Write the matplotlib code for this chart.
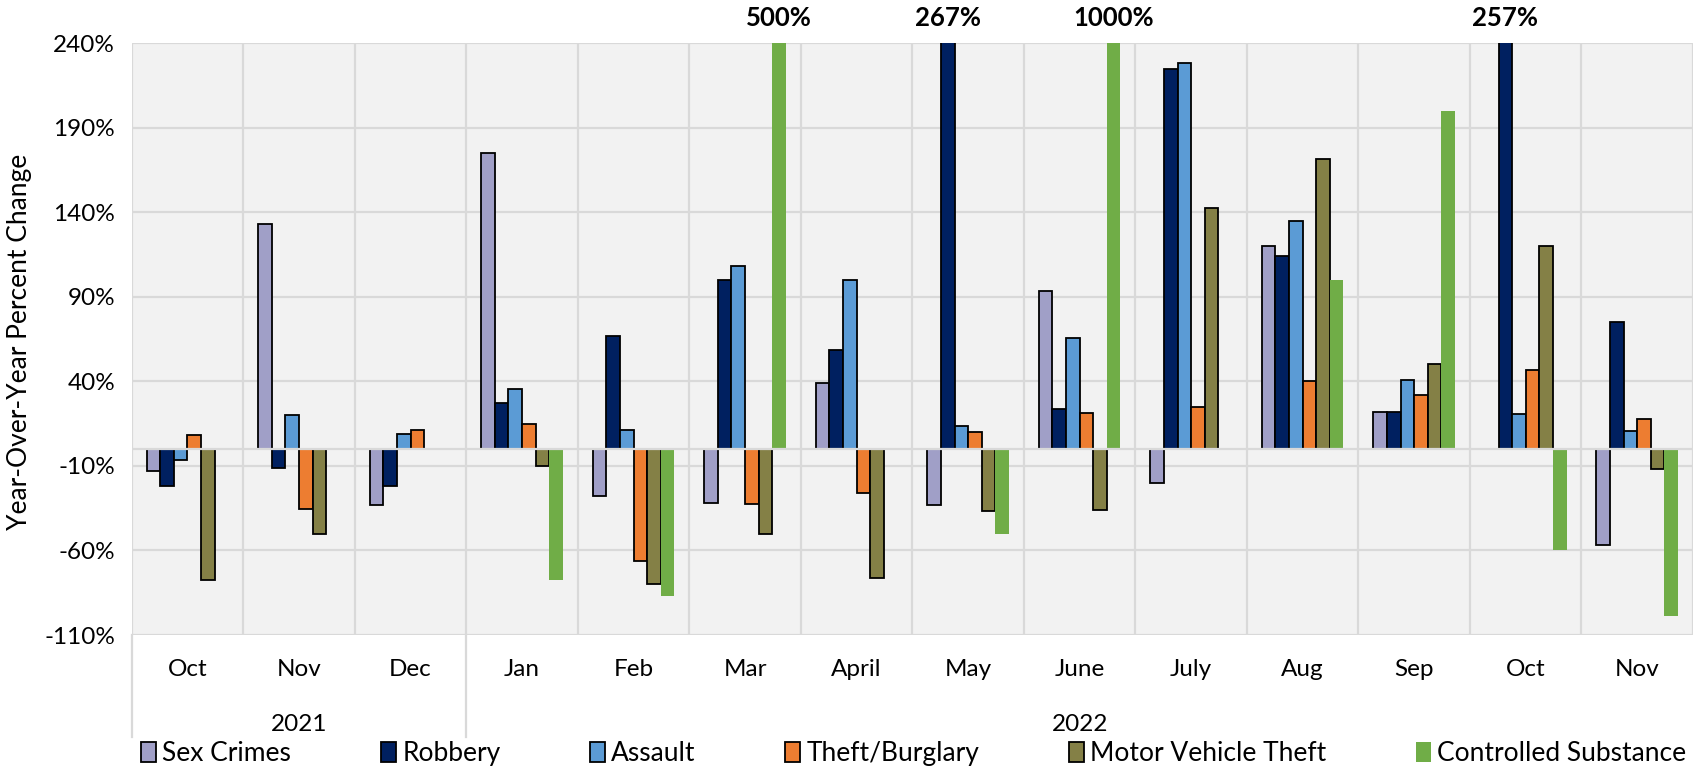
import numpy as np
import matplotlib
matplotlib.use("Agg")
import matplotlib.pyplot as plt
import matplotlib.transforms as mtransforms
from matplotlib.patches import Patch

plt.rcParams['font.family'] = ['Lato', 'DejaVu Sans']

nan = np.nan
months = ['Oct', 'Nov', 'Dec', 'Jan', 'Feb', 'Mar', 'April', 'May', 'June',
          'July', 'Aug', 'Sep', 'Oct', 'Nov']
years = ['2021', '2022']
year_first_idx = [0, 3]
year_last_idx = [2, 13]

series_names = ['Sex Crimes', 'Robbery', 'Assault', 'Theft/Burglary',
                'Motor Vehicle Theft', 'Controlled Substance']
sex_crimes = [-13, 133, -33, 175, -28, -32, 39, -33, 93.5, -20, 120, 22, nan, -57]
robbery = [-22, -11, -22, 27.5, 67, 100, 58.5, 267, 23.5, 224.5, 114, 22, 257, 75]
assault = [-6.5, 20, 9, 35.5, 11.5, 108, 100, 13.5, 65.5, 228, 135, 41, 20.5, 10.5]
theft_burglary = [8, -35.5, 11.5, 15, -66.5, -32.5, -26, 10, 21.5, 25, 40, 32, 46.5, 17.5]
motor_vehicle_theft = [-77.5, -50, nan, -10, -80, -50, -76.5, -36.5, -36, 142.5,
                       171.5, 50, 120, -12]
controlled_substance = [nan, nan, nan, -77.5, -87, 500, nan, -50, 1000, nan,
                        100, 200, -60, -99]

y_ticks = [-110, -60, -10, 40, 90, 140, 190, 240]

colors = ['#A09FC7', '#002060', '#5B9BD5', '#ED7D31', '#848046', '#70AD47']
edges = ['black', 'black', 'black', 'black', 'black', 'none']
all_series = [sex_crimes, robbery, assault, theft_burglary,
              motor_vehicle_theft, controlled_substance]

fig = plt.figure(figsize=(16.93, 7.70), dpi=100)
ax = fig.add_axes([0.0778, 0.1753, 0.9222, 0.7686])
ax.set_facecolor('#F2F2F2')
for s in ax.spines.values():
    s.set_visible(False)

x = np.arange(len(months))
w = 0.122
ymin, ymax = y_ticks[0], y_ticks[-1]
for i, (vals, c, e) in enumerate(zip(all_series, colors, edges)):
    off = (i - 2.5) * w
    v = np.array(vals, dtype=float)
    ax.bar(x + off, v, width=w, color=c, edgecolor=e, linewidth=1.3, zorder=3)
    for xi, vi in zip(x, v):
        if np.isfinite(vi) and vi > ymax:
            ax.annotate(f'{vi:.0f}%', xy=(xi + off, ymax), xytext=(0, 18),
                        textcoords='offset points', ha='center', va='center',
                        fontsize=18.5, fontweight='bold', annotation_clip=False)

ax.set_ylim(ymin, ymax)
ax.set_xlim(-0.5, len(months) - 0.5)
ax.set_yticks(y_ticks)
ax.set_yticklabels([f'{t}%' for t in y_ticks], fontsize=17.5)
ax.tick_params(axis='y', length=0, pad=12)
ax.set_xticks(x)
ax.set_xticklabels([])
ax.tick_params(axis='x', length=0)
ax.set_xticks(np.arange(-0.5, len(months), 1), minor=True)
ax.tick_params(axis='x', which='minor', length=0)
ax.grid(axis='y', which='major', color='#D9D9D9', lw=1.6, zorder=1)
ax.grid(axis='x', which='minor', color='#D9D9D9', lw=1.6, zorder=1)
ax.set_axisbelow(True)
ax.axhline(0, color='#D9D9D9', lw=1.6, zorder=4)

trans = mtransforms.blended_transform_factory(ax.transData, ax.transAxes)
for xi, m in zip(x, months):
    ax.text(xi, -0.0585, m, transform=trans, ha='center', va='center', fontsize=17.5)
for yr, a, b in zip(years, year_first_idx, year_last_idx):
    ax.text((a + b) / 2, -0.152, yr, transform=trans, ha='center', va='center', fontsize=17.5)
    ax.plot([a - 0.5, a - 0.5], [0, -0.172], transform=trans, color='#D9D9D9',
            lw=1.6, clip_on=False)

fig.text(0.0115, 0.556, 'Year-Over-Year Percent Change', rotation=90,
         ha='center', va='center', fontsize=19)

handles = [Patch(facecolor=c, edgecolor=e, linewidth=1.3) for c, e in zip(colors, edges)]
fig.legend(handles, series_names, loc='center left', bbox_to_anchor=(0.0835, 0.021),
           ncol=6, frameon=False, fontsize=19, handlelength=0.55, handleheight=0.75,
           handletextpad=0.25, columnspacing=3.4, borderaxespad=0, borderpad=0)

fig.savefig('out.png', dpi=100)
